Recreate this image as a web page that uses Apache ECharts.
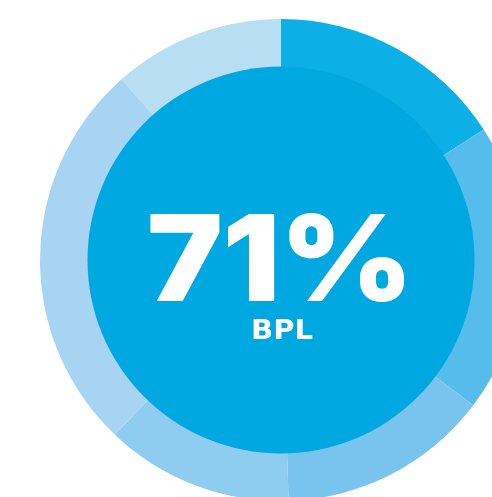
<!DOCTYPE html>
<html>
<head>
<meta charset="utf-8">
<script src="https://cdn.jsdelivr.net/npm/echarts@6/dist/echarts.min.js"></script>
<style>
  html, body { margin: 0; padding: 0; background: #fff; }
  #chart { width: 492px; height: 497px; }
</style>
</head>
<body>
<div id="chart"></div>
<script>
// ring segments, clockwise from 12 o'clock (share of the circle, %)
var segments = ['S1', 'S2', 'S3', 'S4', 'S5', 'S6'];
var shares = [15.9, 19.4, 14.2, 12.6, 26.4, 11.5];
var ringColors = ['#0db0e6', '#56bcec', '#78c4ee', '#8eccf0', '#a6d4f2', '#b8def4'];

var headline = '71%';
var subline = 'BPL';

var chart = echarts.init(document.getElementById('chart'));

var option = {
  animation: false,
  series: [
    {
      type: 'pie',
      center: [281, 260],
      radius: [192, 241],
      startAngle: 90,
      clockwise: true,
      silent: true,
      label: { show: false },
      labelLine: { show: false },
      data: segments.map((name, i) => ({
        name: name,
        value: shares[i],
        itemStyle: { color: ringColors[i] }
      }))
    },
    {
      // solid middle disk, drawn over the ring's inner edge
      type: 'pie',
      center: [281, 260],
      radius: [0, 193.5],
      z: 3,
      silent: true,
      label: { show: false },
      labelLine: { show: false },
      data: [{ name: 'core', value: 1, itemStyle: { color: '#00a8e2' } }]
    }
  ],
  graphic: [
    {
      type: 'text',
      z: 100,
      x: 280,
      y: 265,
      scaleX: 1.07,
      style: {
        text: headline,
        fill: '#fff',
        font: '900 119px Inter, "Liberation Sans", sans-serif',
        align: 'center',
        verticalAlign: 'middle'
      }
    },
    {
      type: 'text',
      z: 100,
      x: 282,
      y: 332,
      scaleX: 1.12,
      style: {
        text: subline,
        fill: '#fff',
        font: 'bold 26px "DejaVu Sans", "Liberation Sans", sans-serif',
        align: 'center',
        verticalAlign: 'middle'
      }
    }
  ]
};

chart.setOption(option);
</script>
</body>
</html>
